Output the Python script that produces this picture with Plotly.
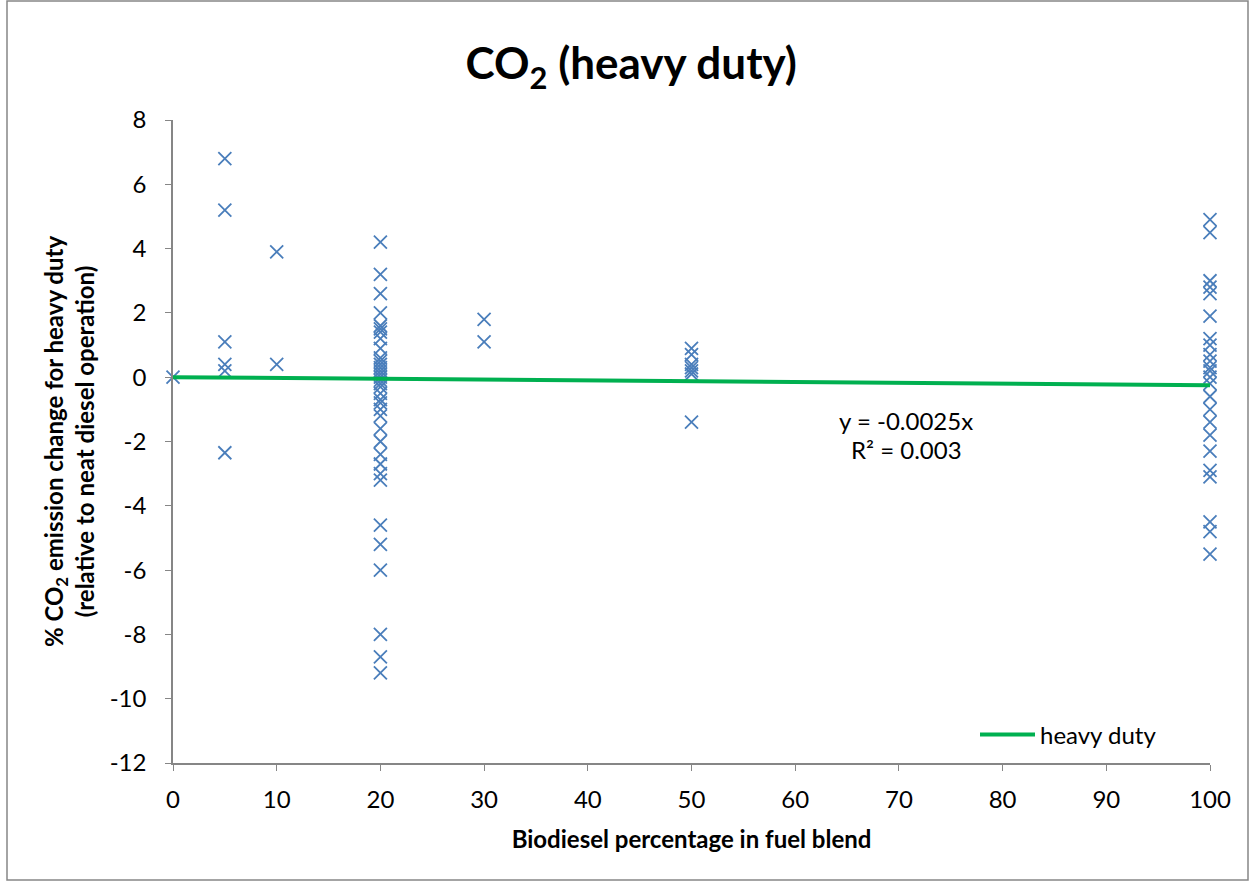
import plotly.graph_objects as go

# ---- data ----
x_0 = [0]
y_0 = [0.0]
x_5 = [5, 5, 5, 5, 5, 5]
y_5 = [6.8, 5.2, 1.1, 0.4, 0.2, -2.35]
x_10 = [10, 10]
y_10 = [3.9, 0.4]
y_20 = [4.2, 3.2, 2.6, 2.0, 1.6, 1.5, 1.4, 1.2, 0.9, 0.6, 0.5, 0.4, 0.3, 0.2, 0.1, 0.0,
        -0.1, -0.2, -0.3, -0.5, -0.7, -0.8, -1.0, -1.2, -1.6, -2.0, -2.4, -2.7, -3.0, -3.2,
        -4.6, -5.2, -6.0, -8.0, -8.7, -9.2]
y_30 = [1.8, 1.1]
y_50 = [0.9, 0.7, 0.4, 0.3, 0.2, 0.1, -1.4]
y_100 = [4.9, 4.5, 3.0, 2.8, 2.6, 1.9, 1.2, 1.0, 0.7, 0.5, 0.3, 0.2, 0.0, -0.2, -0.6,
         -1.0, -1.4, -1.8, -2.3, -2.9, -3.1, -4.5, -4.8, -5.5]

trend_x = [0, 100]
trend_y = [0.0, -0.25]  # y = -0.0025x

x_ticks = [0, 10, 20, 30, 40, 50, 60, 70, 80, 90, 100]
y_ticks = [8, 6, 4, 2, 0, -2, -4, -6, -8, -10, -12]
y_ticktext = ["8", "6", "4", "2", "0", "-2", "-4", "-6", "-8", "-10", "-12"]

xs = x_0 + x_5 + x_10 + [20] * len(y_20) + [30] * len(y_30) + [50] * len(y_50) + [100] * len(y_100)
ys = y_0 + y_5 + y_10 + y_20 + y_30 + y_50 + y_100

FONT = "Lato"

fig = go.Figure()
fig.add_trace(go.Scatter(
    x=xs, y=ys, mode="markers", showlegend=False,
    marker=dict(symbol="x-thin-open", size=13, color="#4A7EBB",
                line=dict(color="#4A7EBB", width=1.8)),
    cliponaxis=False,
))
fig.add_trace(go.Scatter(
    x=trend_x, y=trend_y, mode="lines", name="heavy duty",
    line=dict(color="#00B050", width=4),
))

W, H = 1250, 881
L, R, T, B = 173, 40, 120, 118
pw = W - L - R
ph = H - T - B

def px(xpix):
    return (xpix - L) / pw

def py(ypix):
    return (H - B - ypix) / ph

fig.update_layout(
    width=W, height=H,
    margin=dict(l=L, r=R, t=T, b=B),
    paper_bgcolor="white", plot_bgcolor="white",
    font=dict(family=FONT, size=24, color="#000000"),
    title=dict(text="<b>CO<sub>2</sub> (heavy duty)</b>", x=0.505, xanchor="center",
               y=1 - 64 / H, yanchor="middle", font=dict(size=44, family=FONT)),
    xaxis=dict(range=[0, 100], tickvals=x_ticks, showgrid=False, zeroline=False,
               showline=True, linecolor="#868686", linewidth=1.5,
               ticks="outside", ticklen=6, tickcolor="#868686",
               tickfont=dict(size=24), ticklabelstandoff=8,
               title=dict(text="<b>Biodiesel percentage in fuel blend</b>",
                          font=dict(size=24), standoff=20)),
    yaxis=dict(range=[-12, 8], tickvals=y_ticks, ticktext=y_ticktext,
               showgrid=False, zeroline=False,
               showline=True, linecolor="#868686", linewidth=1.5,
               ticks="outside", ticklen=6, tickcolor="#868686",
               tickfont=dict(size=24), ticklabelstandoff=14,
               title=dict(text="<b>% CO<sub>2</sub> emission change for heavy duty<br>(relative to neat diesel operation)</b>",
                          font=dict(size=24), standoff=8)),
    legend=dict(x=px(975), y=py(735), xanchor="left", yanchor="middle",
                bgcolor="rgba(0,0,0,0)", font=dict(size=24), itemwidth=55),
    showlegend=True,
)

fig.add_annotation(x=px(906), y=py(420), xref="paper", yref="paper", xanchor="center",
                   text="y = -0.0025x", showarrow=False, font=dict(size=24))
fig.add_annotation(x=px(906), y=py(449), xref="paper", yref="paper", xanchor="center",
                   text="R² = 0.003", showarrow=False, font=dict(size=24))

# chart-area border
fig.add_shape(type="rect", xref="paper", yref="paper",
              x0=px(7), x1=px(1248), y0=py(880), y1=py(1),
              line=dict(color="#868686", width=1.5), fillcolor="rgba(0,0,0,0)")

fig.write_html("out.html")
